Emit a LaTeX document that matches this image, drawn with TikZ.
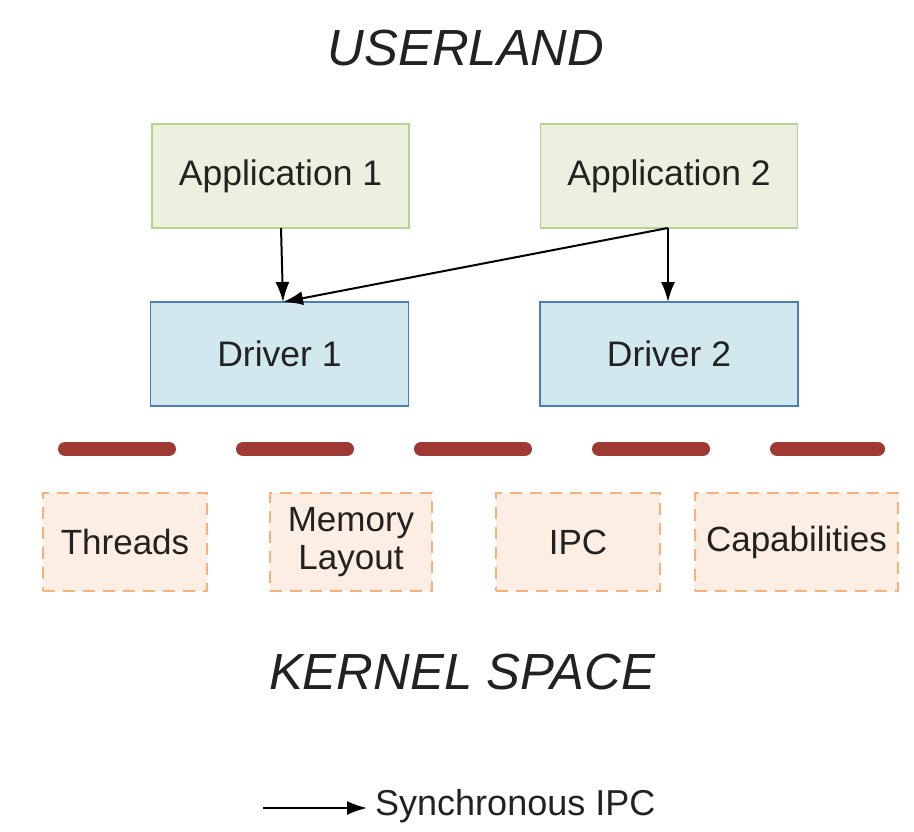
\documentclass[tikz,border=0pt]{standalone}
\usepackage{fontspec}
\setmainfont{Liberation Sans}
\usetikzlibrary{arrows.meta}
\definecolor{appfill}{HTML}{EBF1DE}
\definecolor{appdraw}{HTML}{B5D48E}
\definecolor{drvfill}{HTML}{D2E8EF}
\definecolor{drvdraw}{HTML}{4A7EBB}
\definecolor{krnfill}{HTML}{FCEEE3}
\definecolor{krndraw}{HTML}{F9B07A}
\definecolor{sepred}{HTML}{9E3A33}
\definecolor{txt}{HTML}{222222}
\tikzset{
  appbox/.style={draw=appdraw, fill=appfill, line width=1.8pt, minimum width=257pt, minimum height=104pt, inner sep=0pt, text=txt, font=\fontsize{35.5}{40}\selectfont},
  drvbox/.style={draw=drvdraw, fill=drvfill, line width=1.8pt, minimum width=258pt, minimum height=104pt, inner sep=0pt, text=txt, font=\fontsize{35.5}{40}\selectfont},
  krnbox/.style={draw=krndraw, fill=krnfill, line width=2pt, dash pattern=on 12pt off 8pt, minimum height=98pt, inner sep=0pt, text=txt, align=center, font=\fontsize{35}{43}\selectfont},
  title/.style={text=txt, font=\fontsize{50.8}{56}\selectfont\itshape},
  ipc/.style={-{Latex[length=20pt,width=14pt]}, line width=2pt, black},
}
\begin{document}
\begin{tikzpicture}[x=1pt,y=-1pt]
\useasboundingbox (0,0) rectangle (914,832);
\node[title] (user) at (466,48) {USERLAND};
\node[appbox] (app1) at (280.5,176) {Application 1};
\node[appbox] (app2) at (669,176) {Application 2};
\node[drvbox] (drv1) at (279.5,354) {Driver 1};
\node[drvbox] (drv2) at (669,354) {Driver 2};
\coordinate (a1b) at (281,228);
\coordinate (a2b) at (668,228);
\coordinate (d1t) at (283,302);
\coordinate (d2t) at (668,302);
\draw[ipc] (a1b) -- (d1t);
\draw[ipc] (a2b) -- (d2t);
\draw[ipc] (a2b) -- (d1t);
\coordinate (sepL) at (65,449);
\coordinate (sepR) at (878,449);
\draw[sepred, line width=14pt, line cap=round, dash pattern=on 104pt off 74pt] (sepL) -- (sepR);
\node[krnbox, minimum width=164pt] (thr) at (125,542) {Threads};
\node[krnbox, minimum width=162pt] (mem) at (351,542) {\raisebox{-3pt}{\shortstack{Memory\\[4pt]Layout}}};
\node[krnbox, minimum width=164pt] (ipcb) at (578,542) {IPC};
\node[krnbox, minimum width=203pt] (cap) at (796.5,542) {Capabilities};
\node[title] (kern) at (462,672) {KERNEL SPACE};
\coordinate (lgS) at (263,808);
\coordinate (lgE) at (367,808);
\draw[ipc] (lgS) -- (lgE);
\node[anchor=west, text=txt, font=\fontsize{36}{40}\selectfont, inner sep=0pt] (lgt) at (375,806) {Synchronous IPC};
\end{tikzpicture}
\end{document}
